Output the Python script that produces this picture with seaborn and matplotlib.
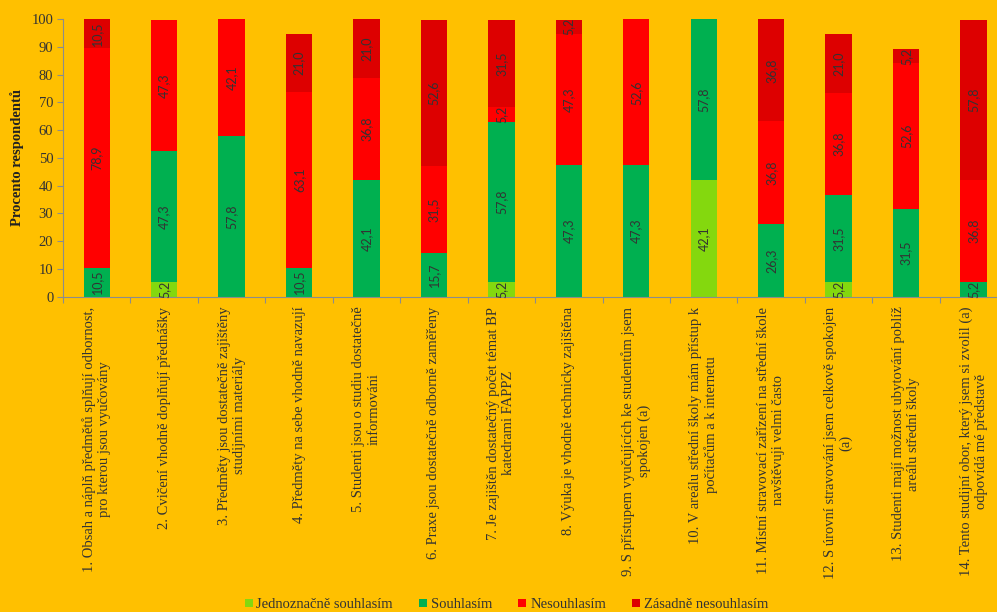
import numpy as np
import pandas as pd
import matplotlib
matplotlib.use("Agg")
import matplotlib.pyplot as plt
import seaborn as sns
from matplotlib.patches import Patch

sns.set_style("white")
plt.rcParams["font.family"] = ["Liberation Serif", "DejaVu Serif"]

BG = "#FFC000"

items = [
    "1. Obsah a náplň předmětů splňují odbornost,\npro kterou jsou vyučovány",
    "2. Cvičení vhodně doplňují přednášky",
    "3. Předměty jsou dostatečně zajištěny\nstudijními materiály",
    "4. Předměty na sebe vhodně navazují",
    "5. Studenti jsou o studiu dostatečně\ninformováni",
    "6. Praxe jsou dostatečně odborně zaměřeny",
    "7. Je zajištěn dostatečný počet témat BP\nkatedrami FAPPZ",
    "8. Výuka je vhodně technicky zajištěna",
    "9. S přístupem vyučujících ke studentům jsem\nspokojen (a)",
    "10. V areálu střední školy mám přístup k\npočítačům a k internetu",
    "11. Místní stravovací zařízení na střední škole\nnavštěvuji velmi často",
    "12. S úrovní stravování jsem celkově spokojen\n(a)",
    "13. Studenti mají možnost ubytování poblíž\nareálu střední školy",
    "14. Tento studijní obor, který jsem si zvolil (a)\nodpovídá mé představě",
]

series_names = ["Jednoznačně souhlasím", "Souhlasím", "Nesouhlasím", "Zásadně nesouhlasím"]
colors = ["#84D80E", "#00B050", "#FF0000", "#DD0000"]

jednoznacne = [0, 5.2, 0, 0, 0, 0, 5.2, 0, 0, 42.1, 0, 5.2, 0, 0]
souhlasim = [10.5, 47.3, 57.8, 10.5, 42.1, 15.7, 57.8, 47.3, 47.3, 57.8, 26.3, 31.5, 31.5, 5.2]
nesouhlasim = [78.9, 47.3, 42.1, 63.1, 36.8, 31.5, 5.2, 47.3, 52.6, 0, 36.8, 36.8, 52.6, 36.8]
zasadne = [10.5, 0, 0, 21.0, 21.0, 52.6, 31.5, 5.2, 0, 0, 36.8, 21.0, 5.2, 57.8]

values = np.array([jednoznacne, souhlasim, nesouhlasim, zasadne])
cum = values.cumsum(axis=0)
x_keys = [f"q{i+1}" for i in range(len(items))]

fig = plt.figure(figsize=(9.97, 6.12), dpi=100, facecolor=BG)
ax = fig.add_axes([0.0632, 0.515, 0.947, 0.454])
ax.set_facecolor(BG)

# stacked bars: draw cumulative totals from the top layer down
for k in range(3, -1, -1):
    df = pd.DataFrame({"item": x_keys, "value": cum[k]})
    sns.barplot(data=df, x="item", y="value", color=colors[k], saturation=1,
                width=0.39, ax=ax, linewidth=0, order=x_keys)

# value labels in the middle of each segment
for k in range(4):
    for i in range(len(items)):
        v = values[k, i]
        if v <= 0:
            continue
        mid = cum[k, i] - v / 2
        ax.text(i, mid, f"{v:.1f}".replace(".", ","), rotation=90, ha="center",
                va="center", fontsize=9, color="#333333", family=["Lato", "DejaVu Sans"])

ax.set_xlim(-0.5, len(items) - 0.5)
ax.set_ylim(0, 100)
ax.set_yticks(range(0, 101, 10))
ax.tick_params(axis="y", labelsize=10.5, colors="#333333", length=4, width=0.8,
               direction="out", left=True, color="#8c8c8c", pad=3)

ax.set_xticks(range(len(items)))
ax.set_xticklabels(items, rotation=90, ha="center", va="top",
                   multialignment="center", fontsize=10.5, color="#333333",
                   linespacing=1.2)
ax.set_xticks(np.arange(-0.5, len(items), 1.0), minor=True)
ax.tick_params(axis="x", which="major", length=0, pad=7)
ax.tick_params(axis="x", which="minor", length=4, width=0.8, color="#8c8c8c",
               direction="out", bottom=True)

ax.set_xlabel("")
ax.set_ylabel("Procento respondentů", fontsize=10.5, fontweight="bold", color="#222222",
              labelpad=5)

for side in ["top", "right"]:
    ax.spines[side].set_visible(False)
for side in ["left", "bottom"]:
    ax.spines[side].set_color("#8c8c8c")
    ax.spines[side].set_linewidth(0.8)

handles = [Patch(facecolor=c, edgecolor="none", label=n) for c, n in zip(colors, series_names)]
fig.legend(handles=handles, loc="center", bbox_to_anchor=(0.508, 0.012), ncol=4,
           frameon=False, fontsize=10.5, handlelength=0.55, handleheight=0.55,
           handletextpad=0.25, columnspacing=1.8, labelcolor="#333333")

fig.savefig("out.png", dpi=100, facecolor=BG)
